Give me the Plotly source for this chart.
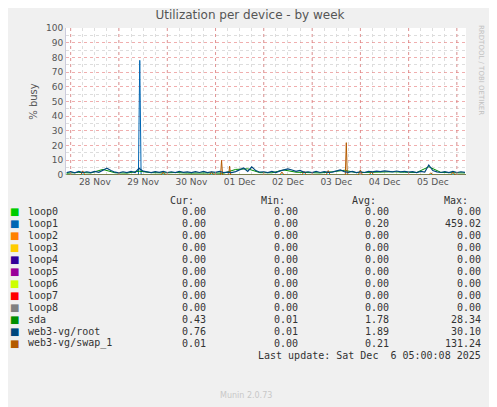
import pandas as pd
import plotly.graph_objects as go

# ---- data ----
start = "2025-11-27 22:00"
root_vals = [1.6, 2.3, 1.5, 2.4, 1.7, 2.2, 1.6, 2.5, 1.8, 3.2,
             4.6, 3.1, 1.9, 1.5, 2.2, 1.6, 2.4, 1.7, 4.5, 2.6,
             2.0, 1.6, 2.3, 1.8, 2.5, 1.7, 2.2, 1.6, 2.4, 1.8,
             2.1, 1.6, 2.3, 1.7, 2.4, 1.6, 2.2, 1.8, 2.5, 1.7,
             2.0, 1.6, 2.3, 3.4, 4.8, 2.4, 5.6, 3.0, 1.9, 2.2,
             1.6, 2.4, 1.7, 2.8, 3.6, 4.2, 3.4, 2.5, 3.1, 1.8,
             2.2, 1.6, 2.4, 1.7, 2.3, 1.8, 2.0, 2.6, 3.4, 2.3,
             1.8, 2.4, 1.6, 2.2, 1.7, 2.5, 2.1, 2.6, 2.3, 2.8,
             2.4, 2.2, 2.7, 2.1, 2.5, 1.9, 2.3, 1.6, 2.4, 2.0,
             6.8, 3.0, 2.1, 1.7, 2.3, 1.6, 2.4, 1.7, 2.2, 1.8]
sda_vals = [1.2, 1.8, 1.4, 3.8, 1.5, 1.3, 2.6, 1.6, 1.4, 1.7, 1.3, 1.5,
            1.4, 1.2, 3.8, 4.2, 1.6, 1.5, 3.4, 1.9, 1.5, 1.4, 2.2, 3.2,
            1.6, 1.8, 2.0, 2.2, 1.9, 1.7, 5.6, 1.8, 1.5, 1.4]
loop1_t = ["2025-11-27 22:00", "2025-11-29 09:40", "2025-11-29 10:20",
           "2025-11-29 11:00", "2025-12-06 04:30"]
loop1_v = [0, 0, 78, 0, 0]
swap_t = ["2025-11-27 22:00", "2025-11-28 05:00", "2025-11-28 06:00", "2025-11-28 07:00",
          "2025-11-29 21:00", "2025-11-29 22:00", "2025-11-29 23:00",
          "2025-11-30 21:00", "2025-11-30 22:00", "2025-11-30 23:00",
          "2025-12-01 02:30", "2025-12-01 03:00", "2025-12-01 03:30",
          "2025-12-01 06:30", "2025-12-01 07:00", "2025-12-01 07:30",
          "2025-12-02 08:00", "2025-12-02 09:00", "2025-12-02 10:00",
          "2025-12-02 19:00", "2025-12-02 20:00", "2025-12-02 21:00",
          "2025-12-03 07:00", "2025-12-03 08:00", "2025-12-03 09:00",
          "2025-12-03 16:30", "2025-12-03 17:00", "2025-12-03 17:30",
          "2025-12-03 23:00", "2025-12-04 00:00", "2025-12-04 01:00",
          "2025-12-04 04:30", "2025-12-04 05:30", "2025-12-04 06:30",
          "2025-12-05 10:00", "2025-12-05 11:00", "2025-12-05 12:00",
          "2025-12-05 21:00", "2025-12-05 22:00", "2025-12-05 23:00",
          "2025-12-06 04:30"]
swap_v = [0, 0, 2.8, 0,
          0, 2.0, 0,
          0, 2.2, 0,
          0, 10.0, 0,
          0, 6.0, 0,
          0, 2.0, 0,
          0, 2.5, 0,
          0, 3.0, 0,
          0, 22.0, 0,
          0, 3.5, 0,
          0, 2.5, 0,
          0, 1.5, 0,
          0, 2.0, 0,
          0]

names = ["loop0", "loop1", "loop2", "loop3", "loop4", "loop5", "loop6",
         "loop7", "loop8", "sda", "web3-vg/root", "web3-vg/swap_1"]
colors = ["#00CC00", "#0066B3", "#FF8000", "#FFCC00", "#330099", "#990099",
          "#CCFF00", "#FF0000", "#808080", "#008F00", "#00487D", "#B35A00"]
cur = ["0.00"] * 9 + ["0.43", "0.76", "0.01"]
mins = ["0.00"] * 9 + ["0.01", "0.01", "0.00"]
avg = ["0.00", "0.20"] + ["0.00"] * 7 + ["1.78", "1.89", "0.21"]
maxs = ["0.00", "459.02"] + ["0.00"] * 7 + ["28.34", "30.10", "131.24"]
days = pd.date_range("2025-11-28", "2025-12-05", freq="D")
day_labels = [d.strftime("%d %b") for d in days]

root_t = pd.date_range(start, periods=len(root_vals), freq="2h")
sda_t = pd.date_range(start, periods=len(sda_vals), freq="6h")
x0, x1 = "2025-11-27 21:40", "2025-12-06 04:30"

fig = go.Figure()
fig.add_trace(go.Scatter(x=[x0, x1], y=[0, 0], mode="lines", line=dict(color=colors[0], width=1)))
fig.add_trace(go.Scatter(x=loop1_t, y=loop1_v, mode="lines", line=dict(color=colors[1], width=1)))
fig.add_trace(go.Scatter(x=sda_t, y=sda_vals, mode="lines", line=dict(color=colors[9], width=1)))
fig.add_trace(go.Scatter(x=swap_t, y=swap_v, mode="lines", line=dict(color=colors[11], width=1)))
fig.add_trace(go.Scatter(x=root_t, y=root_vals, mode="lines", line=dict(color=colors[10], width=1.2)))

# midnight gridlines (red dotted)
for d in list(days) + [days[-1] + pd.Timedelta(days=1)]:
    ds = d.strftime("%Y-%m-%d")
    fig.add_shape(type="line", xref="x", yref="paper", x0=ds, x1=ds, y0=0, y1=1,
                  line=dict(color="rgba(230,120,120,0.7)", width=1, dash="dot"))

# page has an 8px body margin, so positions are shifted back by 8
OFF = 8
L, T, W, H = 66 - OFF, 28 - OFF, 400, 147
def px(x):
    return (x - OFF - L) / W
def py(y):
    return (T + H - (y - OFF)) / H

mono = dict(family="DejaVu Sans Mono", size=10, color="#333")
ann = []
for lbl, xr in [("Cur:", 196), ("Min:", 287), ("Avg:", 378), ("Max:", 470)]:
    ann.append(dict(x=px(xr), y=py(200), text=lbl, xanchor="right"))
for i, n in enumerate(names):
    yy = py(211 + 12 * i)
    ann.append(dict(x=px(26), y=yy, text=n, xanchor="left"))
    ann.append(dict(x=px(21), y=yy, text="■", xanchor="right",
                    font=dict(family="DejaVu Sans", size=10, color=colors[i])))
    for vals, xr in [(cur, 208), (mins, 300), (avg, 391), (maxs, 483)]:
        ann.append(dict(x=px(xr), y=yy, text=vals[i], xanchor="right"))
ann.append(dict(x=px(483), y=py(355), text="Last update: Sat Dec  6 05:00:08 2025", xanchor="right"))
ann.append(dict(x=px(246), y=py(395), text="Munin 2.0.73", xanchor="center",
                font=dict(family="DejaVu Sans", size=8, color="#c8c8c8")))
ann.append(dict(x=px(487), y=py(70), text="RRDTOOL / TOBI OETIKER", textangle=90,
                font=dict(family="DejaVu Sans", size=7, color="#c0c0c0")))
for a in ann:
    a.setdefault("font", mono)
    a.update(xref="paper", yref="paper", showarrow=False, yanchor="middle")

fig.update_layout(
    width=497, height=407, margin=dict(l=L, r=497 - L - W, t=T, b=407 - T - H),
    paper_bgcolor="#F0F0F0", plot_bgcolor="white", showlegend=False,
    title=dict(text="Utilization per device - by week", x=(250 - OFF) / 497, xanchor="center",
               y=1 - (11 - OFF) / 407, yanchor="top",
               font=dict(family="DejaVu Sans", size=12, color="#555")),
    annotations=ann,
    font=dict(family="DejaVu Sans", size=9, color="#555"),
)
fig.update_xaxes(range=[x0, x1], tickvals=days + pd.Timedelta(hours=12), ticktext=day_labels,
                 showgrid=False, ticks="", zeroline=False, showline=False,
                 minor=dict(dtick=6 * 3600000, tick0="2025-11-28", showgrid=True,
                            gridcolor="#ddd", griddash="dot"))
fig.update_yaxes(range=[0, 100], dtick=10, gridcolor="rgba(230,120,120,0.6)", griddash="dot",
                 zeroline=False, title=dict(text="% busy", font=dict(size=10, color="#555"), standoff=6),
                 minor=dict(dtick=5, showgrid=True, gridcolor="#ddd", griddash="dot"),
                 showline=True, linecolor="#ccd", ticks="")
fig.write_html("out.html")
